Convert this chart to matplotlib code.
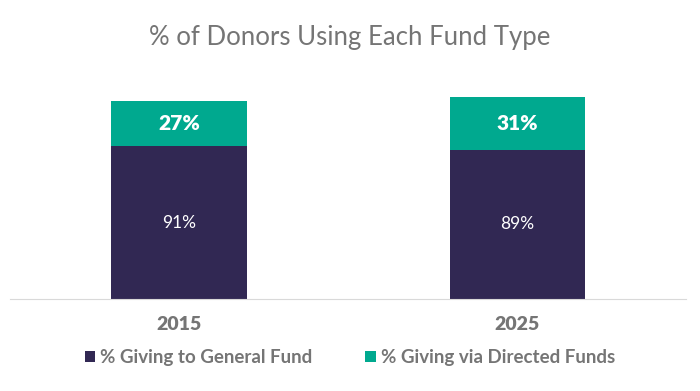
import numpy as np
import matplotlib.pyplot as plt

years = ['2015', '2025']
general = [91, 89]
directed = [27, 31]

navy = '#312853'
teal = '#00a98f'
gray = '#757575'

plt.rcParams['font.family'] = ['Lato', 'DejaVu Sans']

fig = plt.figure(figsize=(7, 3.91), dpi=100)
ax = fig.add_axes([0.0143, 0.2353, 0.966, 0.5601])

x = np.arange(len(years))
b1 = ax.bar(x, general, width=0.4, color=navy, label='% Giving to General Fund')
b2 = ax.bar(x, directed, width=0.4, bottom=general, color=teal, label='% Giving via Directed Funds')

for i in range(len(years)):
    ax.text(x[i], general[i] / 2, f'{general[i]}%', ha='center', va='center',
            color='white', fontsize=12.5)
    ax.text(x[i], general[i] + directed[i] / 2, f'{directed[i]}%', ha='center', va='center',
            color='white', fontsize=15, fontweight='heavy')

ax.set_xlim(-0.5, 1.5)
ax.set_ylim(0, 130.4)
ax.set_xticks(x)
ax.set_xticklabels(years, fontsize=14, fontweight='heavy', color=gray)
ax.tick_params(axis='x', length=0, pad=12)
ax.set_yticks([])
for s in ['top', 'right', 'left']:
    ax.spines[s].set_visible(False)
ax.spines['bottom'].set_color('#d9d9d9')

fig.suptitle('% of Donors Using Each Fund Type', y=0.935, fontsize=18.5, color=gray)

fig.legend(handles=[b1, b2], loc='center', bbox_to_anchor=(0.5, 0.085), ncol=2,
           frameon=False, handlelength=0.55, handleheight=0.55, handletextpad=0.3,
           columnspacing=2.8, prop={'size': 13.5, 'weight': 'bold'}, labelcolor=gray)

fig.savefig('out.png', dpi=100)
